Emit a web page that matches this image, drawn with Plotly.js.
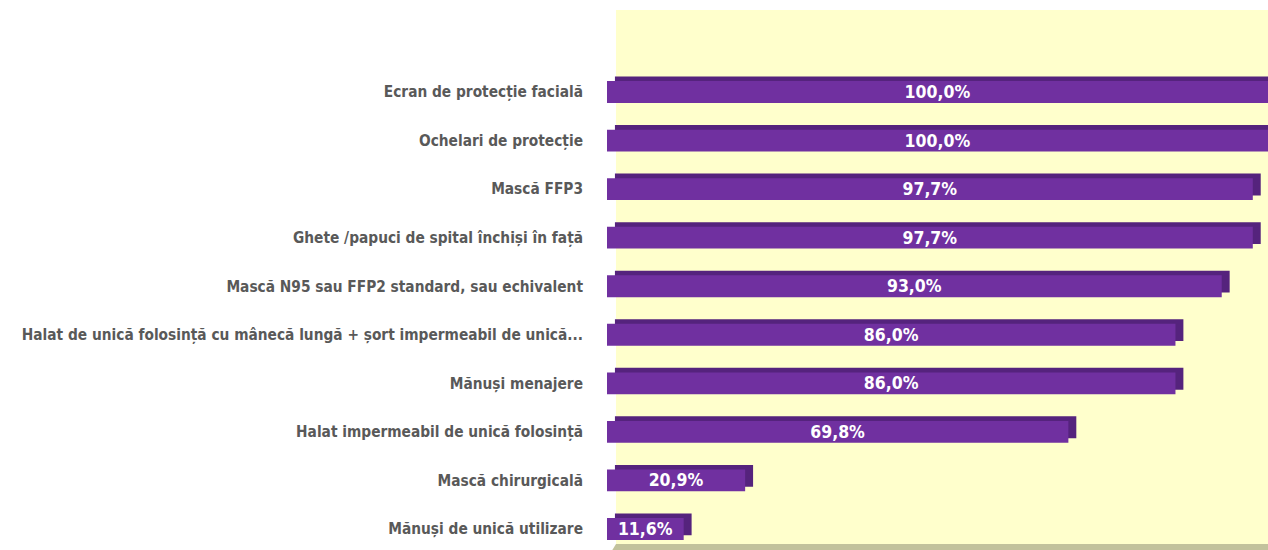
<!DOCTYPE html>
<html>
<head>
<meta charset="utf-8">
<script src="https://cdn.plot.ly/plotly-3.0.1.min.js"></script>
<style>html,body{margin:0;padding:0;background:#fff;}#chart{width:1268px;height:550px;}</style>
</head>
<body>
<div id="chart"></div>
<script>
const categories = [
  "Ecran de protecție facială",
  "Ochelari de protecție",
  "Mască FFP3",
  "Ghete /papuci de spital închiși în față",
  "Mască N95 sau FFP2 standard, sau echivalent",
  "Halat de unică folosință cu mânecă lungă + șort impermeabil de unică...",
  "Mănuși menajere",
  "Halat impermeabil de unică folosință",
  "Mască chirurgicală",
  "Mănuși de unică utilizare"
];
const values = [100.0, 100.0, 97.7, 97.7, 93.0, 86.0, 86.0, 69.8, 20.9, 11.6];
const valueLabels = ["100,0%", "100,0%", "97,7%", "97,7%", "93,0%", "86,0%", "86,0%", "69,8%", "20,9%", "11,6%"];

const labelFont = "DejaVu Sans Condensed, Liberation Sans Narrow, Arial Narrow, sans-serif";

// depth (3D top/side face)
const depth = {
  type: "bar", orientation: "h",
  y: categories, x: values, base: 1.2,
  width: 0.45, offset: -0.32,
  marker: {color: "#55237d", line: {width: 0}},
  hoverinfo: "skip", showlegend: false
};
const front = {
  type: "bar", orientation: "h",
  y: categories, x: values,
  width: 0.45, offset: -0.225,
  marker: {color: "#7030a0", line: {width: 0}},
  text: valueLabels, textposition: "inside", insidetextanchor: "middle",
  textfont: {family: labelFont, size: 17.5, color: "#ffffff", weight: "bold"},
  constraintext: "none", cliponaxis: false,
  showlegend: false
};

const layout = {
  width: 1268, height: 550,
  margin: {l: 607, r: 0, t: 10, b: 5},
  paper_bgcolor: "#ffffff", plot_bgcolor: "rgba(0,0,0,0)",
  barmode: "overlay",
  showlegend: false,
  xaxis: {range: [0, 100], showgrid: false, zeroline: false, showticklabels: false, ticks: "", showline: false, fixedrange: true},
  yaxis: {
    type: "category", range: [9.33, -1.69], autorange: false,
    showgrid: false, zeroline: false, showline: false, ticks: "",
    ticklabelstandoff: 23,
    tickfont: {family: labelFont, size: 15.3, color: "#595959", weight: "bold"}
  },
  shapes: [
    {type: "rect", layer: "below", xref: "paper", yref: "paper", x0: 0.0136, x1: 1, y0: 0, y1: 1, fillcolor: "#ffffcc", line: {width: 0}},
    {type: "path", layer: "below", xref: "paper", yref: "paper", path: "M 0.008 -0.0095 L 1 -0.0095 L 1 0.002 L 0.0136 0.002 Z", fillcolor: "#c2c29c", line: {width: 0}}
  ]
};

Plotly.newPlot("chart", [depth, front], layout, {displayModeBar: false, staticPlot: true});
</script>
</body>
</html>
